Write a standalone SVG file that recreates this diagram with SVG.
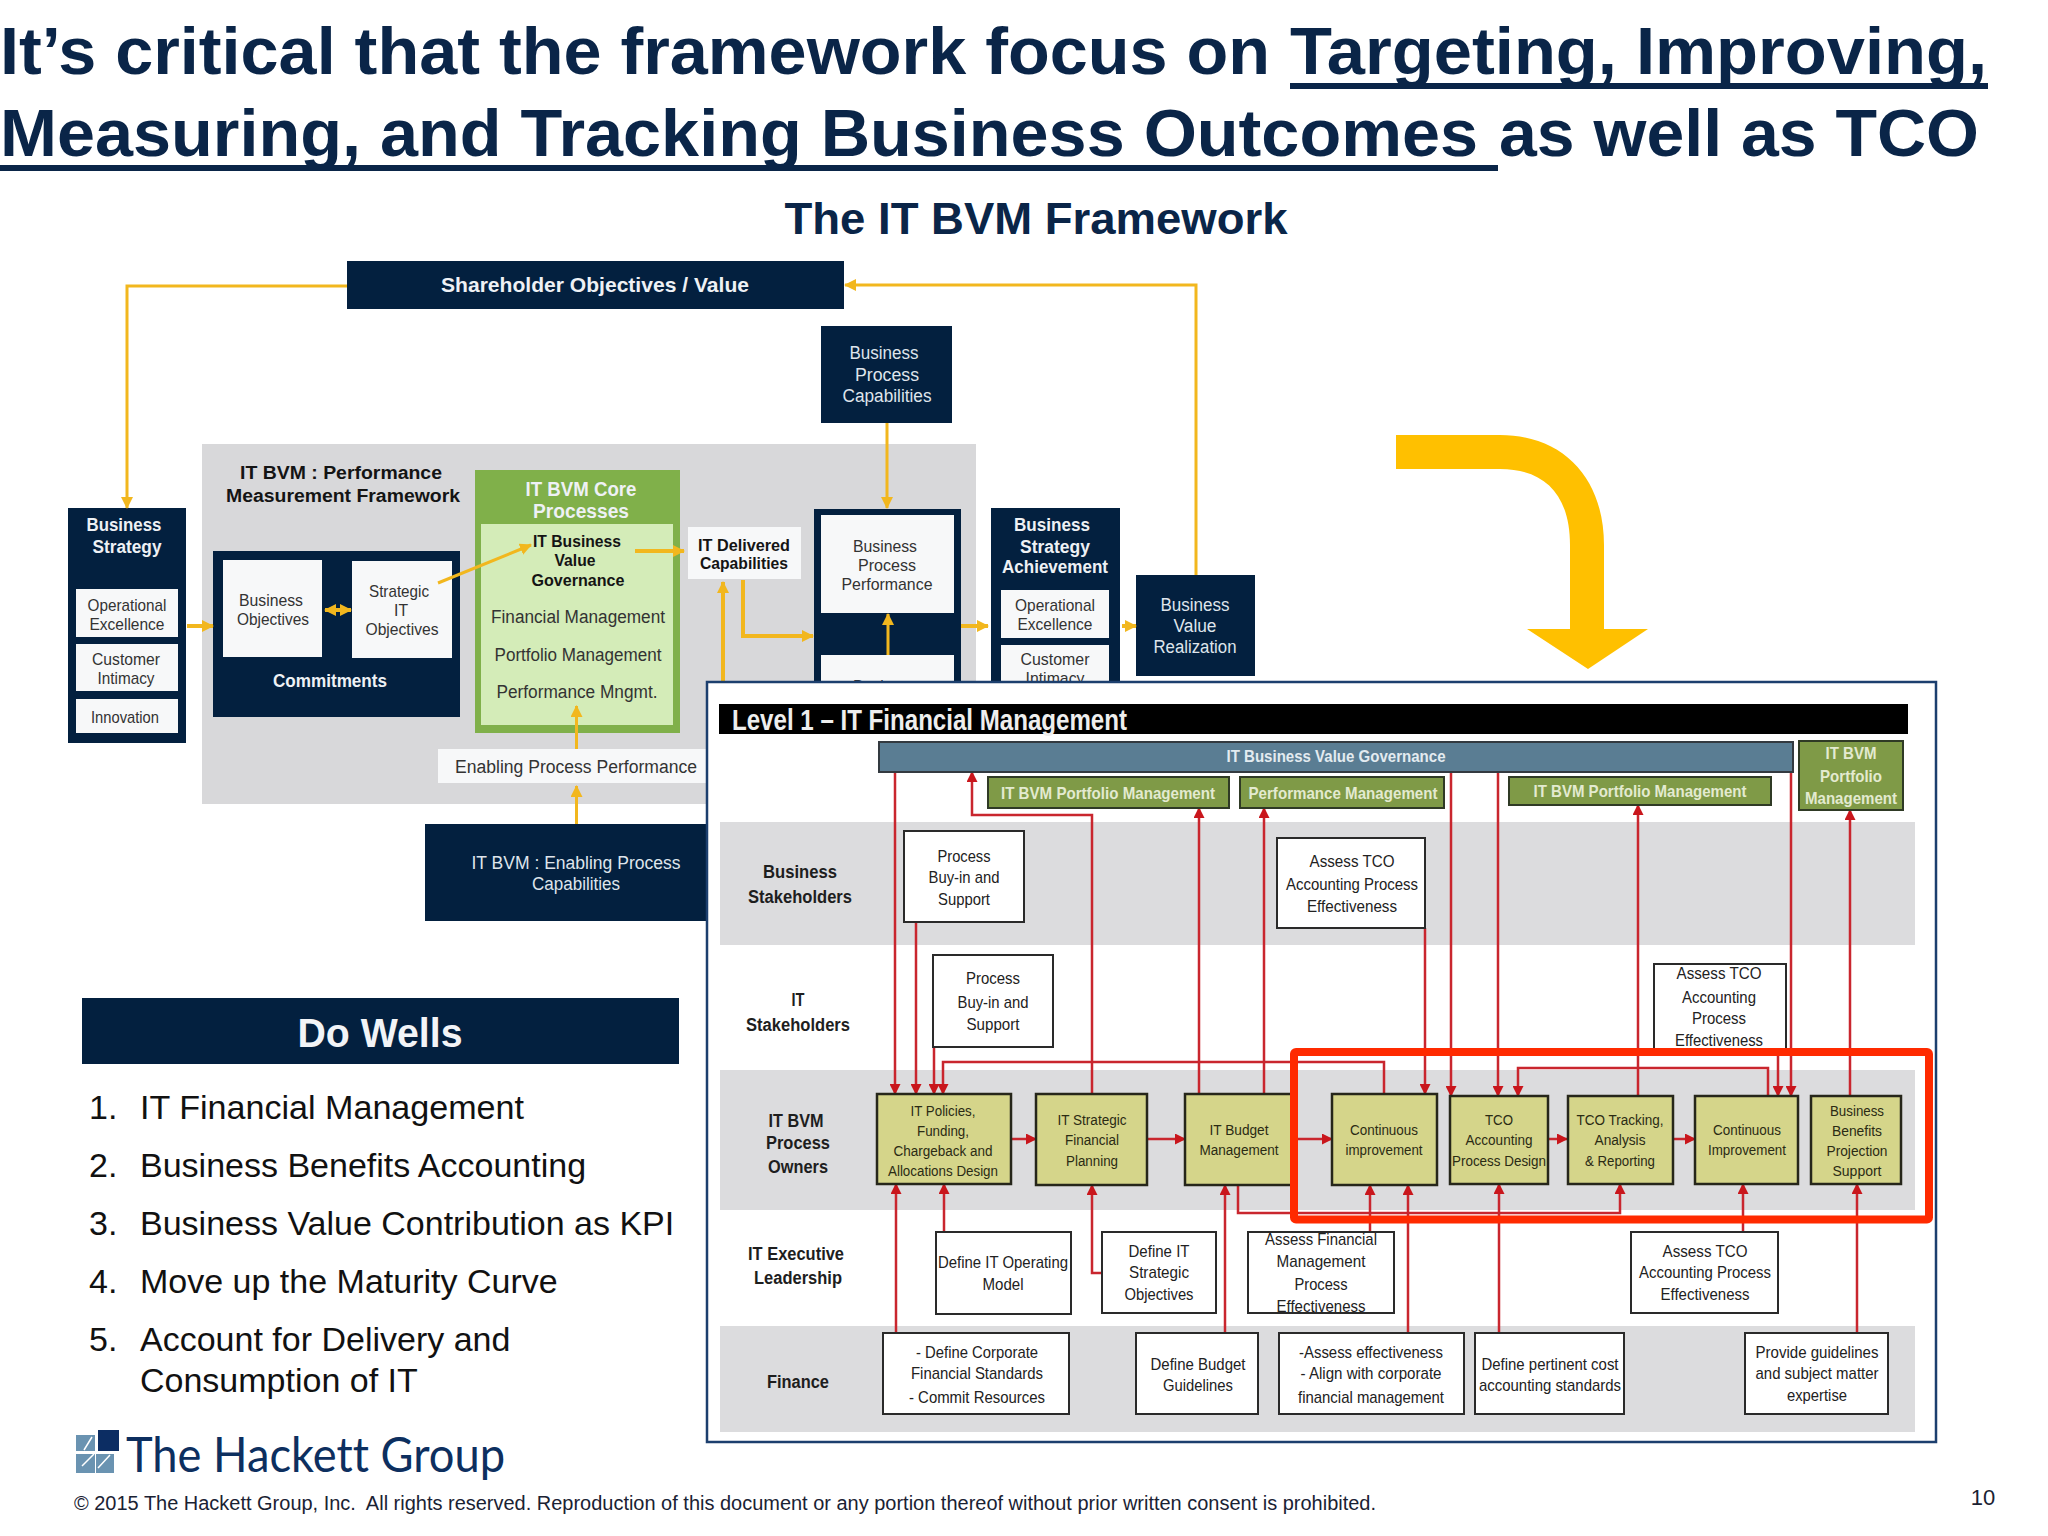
<svg xmlns="http://www.w3.org/2000/svg" width="2048" height="1536" viewBox="0 0 2048 1536">
<style>
text{font-family:"Liberation Sans",Arial,sans-serif}
.c{text-anchor:middle}
.title{font-size:66px;font-weight:700;fill:#0a2548}
.sub{font-size:44px;font-weight:700;fill:#0a2548}
.navy{fill:#03203f}
.wb{fill:#f7f8f9}
.uw{font-size:18px;fill:#dfe5ec;text-anchor:middle}
.ub{font-size:18px;font-weight:700;fill:#eef1f5;text-anchor:middle}
.ud{font-size:17px;fill:#333;text-anchor:middle}
.uk{font-size:18px;font-weight:700;fill:#141414;text-anchor:middle}
.gold{fill:none;stroke:#f2b71e;stroke-width:3}
.goldt{fill:none;stroke:#f2b71e;stroke-width:4}
.red{fill:none;stroke:#c9262e;stroke-width:2.5}
.box{fill:#fff;stroke:#2a2a2a;stroke-width:2}
.yel{fill:#d5d58a;stroke:#26261a;stroke-width:2.5}
.band{fill:#dcdcde}
.gr{fill:#7f9a47;stroke:#2f3a25;stroke-width:2}
.l{font-size:17px;fill:#222;text-anchor:middle}
.y{font-size:15.5px;fill:#2b2b14;text-anchor:middle}
.rl{font-size:18px;font-weight:700;fill:#1e1e1e;text-anchor:middle}
.gt{font-size:17px;font-weight:700;fill:#e3ead0;text-anchor:middle}
.li{font-size:34px;fill:#111}
</style>
<defs>
<marker id="ag" markerUnits="userSpaceOnUse" markerWidth="12" markerHeight="12" refX="11" refY="6" orient="auto"><path d="M0 0L12 6L0 12z" fill="#f2b71e"/></marker>
<marker id="agb" markerUnits="userSpaceOnUse" markerWidth="12" markerHeight="12" refX="1" refY="6" orient="auto"><path d="M12 0L0 6L12 12z" fill="#f2b71e"/></marker>
<marker id="ar" markerUnits="userSpaceOnUse" markerWidth="11" markerHeight="11" refX="10" refY="5.5" orient="auto"><path d="M0 0L11 5.5L0 11z" fill="#c9161c"/></marker>
</defs>
<rect width="2048" height="1536" fill="#fff"/>

<g id="title">
<text class="title" x="0" y="74" textLength="1270" lengthAdjust="spacingAndGlyphs">It’s critical that the framework focus on</text>
<text class="title" x="1290" y="74" textLength="697" lengthAdjust="spacingAndGlyphs">Targeting, Improving,</text>
<text class="title" x="0" y="156" textLength="1478" lengthAdjust="spacingAndGlyphs">Measuring, and Tracking Business Outcomes</text>
<text class="title" x="1499" y="156" textLength="480" lengthAdjust="spacingAndGlyphs">as well as TCO</text>
<rect x="1290" y="83" width="698" height="6" fill="#0a2548"/>
<rect x="0" y="165" width="1498" height="6" fill="#0a2548"/>
<text class="sub c" x="1036" y="234" textLength="503" lengthAdjust="spacingAndGlyphs">The IT BVM Framework</text>
</g>

<rect id="panel" x="202" y="444" width="774" height="360" fill="#d8d8da"/>

<g id="shareholder"><rect class="navy" x="347" y="261" width="497" height="48"/><text class="ub" x="595" y="292" style="font-size:21px" textLength="308" lengthAdjust="spacingAndGlyphs">Shareholder Objectives / Value</text></g>

<g id="business-strategy"><rect class="navy" x="68" y="508" width="118" height="235"/>
<text class="ub" x="124" y="531" textLength="75" lengthAdjust="spacingAndGlyphs">Business</text><text class="ub" x="127" y="553" textLength="69" lengthAdjust="spacingAndGlyphs">Strategy</text>
<rect class="wb" x="76" y="589" width="102" height="48"/><text class="ud" x="127" y="611" textLength="79" lengthAdjust="spacingAndGlyphs">Operational</text><text class="ud" x="127" y="630" textLength="75" lengthAdjust="spacingAndGlyphs">Excellence</text>
<rect class="wb" x="76" y="644" width="102" height="47"/><text class="ud" x="126" y="665" textLength="68" lengthAdjust="spacingAndGlyphs">Customer</text><text class="ud" x="126" y="684" textLength="57" lengthAdjust="spacingAndGlyphs">Intimacy</text>
<rect class="wb" x="76" y="699" width="102" height="34"/><text class="ud" x="125" y="723" textLength="68" lengthAdjust="spacingAndGlyphs">Innovation</text></g>

<text class="uk" x="341" y="479" textLength="202" lengthAdjust="spacingAndGlyphs">IT BVM : Performance</text>
<text class="uk" x="343" y="502" textLength="234" lengthAdjust="spacingAndGlyphs">Measurement Framework</text>

<g id="commitments"><rect class="navy" x="213" y="551" width="247" height="166"/>
<rect class="wb" x="223" y="560" width="99" height="97"/><text class="ud" x="271" y="606" textLength="64" lengthAdjust="spacingAndGlyphs">Business</text><text class="ud" x="273" y="625" textLength="72" lengthAdjust="spacingAndGlyphs">Objectives</text>
<rect class="wb" x="352" y="561" width="100" height="97"/><text class="ud" x="399" y="597" textLength="60" lengthAdjust="spacingAndGlyphs">Strategic</text><text class="ud" x="401" y="616" textLength="14" lengthAdjust="spacingAndGlyphs">IT</text><text class="ud" x="402" y="635" textLength="73" lengthAdjust="spacingAndGlyphs">Objectives</text>
<text class="ub" x="330" y="687" textLength="114" lengthAdjust="spacingAndGlyphs">Commitments</text></g>

<g id="core-processes"><rect x="475" y="470" width="205" height="263" fill="#80b04a"/><rect x="481" y="524" width="192" height="201" fill="#d4ecb8"/>
<text class="ub" x="581" y="496" style="font-size:20px" textLength="111" lengthAdjust="spacingAndGlyphs">IT BVM Core</text><text class="ub" x="581" y="518" style="font-size:20px" textLength="96" lengthAdjust="spacingAndGlyphs">Processes</text>
<text class="uk" x="577" y="547" style="font-size:17px" textLength="88" lengthAdjust="spacingAndGlyphs">IT Business</text><text class="uk" x="575" y="566" style="font-size:17px" textLength="41" lengthAdjust="spacingAndGlyphs">Value</text><text class="uk" x="578" y="586" style="font-size:17px" textLength="93" lengthAdjust="spacingAndGlyphs">Governance</text>
<text class="ud" x="578" y="623" style="font-size:18px" textLength="174" lengthAdjust="spacingAndGlyphs">Financial Management</text><text class="ud" x="578" y="661" style="font-size:18px" textLength="167" lengthAdjust="spacingAndGlyphs">Portfolio Management</text><text class="ud" x="577" y="698" style="font-size:18px" textLength="161" lengthAdjust="spacingAndGlyphs">Performance Mngmt.</text></g>

<g id="enabling-performance"><rect class="wb" x="438" y="749" width="270" height="34"/><text class="ud" x="576" y="773" style="font-size:18px" textLength="242" lengthAdjust="spacingAndGlyphs">Enabling Process Performance</text></g>
<g id="enabling-capabilities"><rect class="navy" x="425" y="824" width="290" height="97"/><text class="uw" x="576" y="869" textLength="209" lengthAdjust="spacingAndGlyphs">IT BVM : Enabling Process</text><text class="uw" x="576" y="890" textLength="88" lengthAdjust="spacingAndGlyphs">Capabilities</text></g>
<g id="it-delivered"><rect class="wb" x="688" y="527" width="113" height="52"/><text class="uk" x="744" y="551" style="font-size:16.5px" textLength="92" lengthAdjust="spacingAndGlyphs">IT Delivered</text><text class="uk" x="744" y="569" style="font-size:16.5px" textLength="88" lengthAdjust="spacingAndGlyphs">Capabilities</text></g>
<g id="process-capabilities"><rect class="navy" x="821" y="326" width="131" height="97"/><text class="uw" x="884" y="359" textLength="69" lengthAdjust="spacingAndGlyphs">Business</text><text class="uw" x="887" y="381" textLength="64" lengthAdjust="spacingAndGlyphs">Process</text><text class="uw" x="887" y="402" textLength="89" lengthAdjust="spacingAndGlyphs">Capabilities</text></g>
<g id="process-performance"><rect class="navy" x="814" y="509" width="147" height="180"/><rect class="wb" x="821" y="515" width="133" height="98"/><text class="ud" x="885" y="552" textLength="64" lengthAdjust="spacingAndGlyphs">Business</text><text class="ud" x="887" y="571" textLength="58" lengthAdjust="spacingAndGlyphs">Process</text><text class="ud" x="887" y="590" textLength="91" lengthAdjust="spacingAndGlyphs">Performance</text><rect class="wb" x="821" y="655" width="133" height="34"/><text class="ud" x="885" y="692" textLength="64" lengthAdjust="spacingAndGlyphs">Business</text></g>
<g id="strategy-achievement"><rect class="navy" x="991" y="508" width="129" height="180"/><text class="ub" x="1052" y="531" textLength="76" lengthAdjust="spacingAndGlyphs">Business</text><text class="ub" x="1055" y="553" textLength="70" lengthAdjust="spacingAndGlyphs">Strategy</text><text class="ub" x="1055" y="573" textLength="106" lengthAdjust="spacingAndGlyphs">Achievement</text>
<rect class="wb" x="1001" y="590" width="108" height="48"/><text class="ud" x="1055" y="611" textLength="80" lengthAdjust="spacingAndGlyphs">Operational</text><text class="ud" x="1055" y="630" textLength="75" lengthAdjust="spacingAndGlyphs">Excellence</text>
<rect class="wb" x="1001" y="645" width="108" height="42"/><text class="ud" x="1055" y="665" textLength="69" lengthAdjust="spacingAndGlyphs">Customer</text><text class="ud" x="1055" y="684" textLength="59" lengthAdjust="spacingAndGlyphs">Intimacy</text></g>
<g id="value-realization"><rect class="navy" x="1136" y="575" width="119" height="101"/><text class="uw" x="1195" y="611" textLength="69" lengthAdjust="spacingAndGlyphs">Business</text><text class="uw" x="1195" y="632" textLength="43" lengthAdjust="spacingAndGlyphs">Value</text><text class="uw" x="1195" y="653" textLength="83" lengthAdjust="spacingAndGlyphs">Realization</text></g>

<g id="connectors-upper">
<path class="gold" d="M347 286H127V508" marker-end="url(#ag)"/>
<path class="gold" d="M1196 575V285H845" marker-end="url(#ag)"/>
<path class="gold" d="M887 423V508" marker-end="url(#ag)"/>
<path class="goldt" d="M187 626H213" marker-end="url(#ag)"/>
<path class="goldt" d="M325 610H351" marker-start="url(#agb)" marker-end="url(#ag)"/>
<path class="gold" d="M438 583L531 545" marker-end="url(#ag)"/>
<path class="goldt" d="M635 551H684" marker-end="url(#ag)"/>
<path class="goldt" d="M743 580V636H813" marker-end="url(#ag)"/>
<path class="goldt" d="M723 690V582" marker-end="url(#ag)"/>
<path class="gold" d="M888 655V614" marker-end="url(#ag)"/>
<path class="goldt" d="M961 626H988" marker-end="url(#ag)"/>
<path class="goldt" d="M1122 626H1136" marker-end="url(#ag)"/>
<path class="gold" d="M576.500 749V706" marker-end="url(#ag)"/>
<path class="gold" d="M576.500 824V786" marker-end="url(#ag)"/>
</g>
<path id="big-arrow" fill="#ffc000" d="M1396 435H1500C1565 435 1604 480 1604 545V629H1648L1588 669L1527 629H1570V545C1570 495 1545 469 1500 469H1396Z"/>

<g id="level1-frame"><rect x="707" y="682" width="1229" height="760" fill="#fff" stroke="#1c3f6e" stroke-width="2.500"/>
<rect x="719" y="704" width="1189" height="30" fill="#000"/><text x="732" y="730" style="font-size:29px;font-weight:700;fill:#eee" textLength="395" lengthAdjust="spacingAndGlyphs">Level 1 – IT Financial Management</text>
<rect class="band" x="720" y="822" width="1195" height="123"/><rect class="band" x="720" y="1070" width="1195" height="140"/><rect class="band" x="720" y="1326" width="1195" height="106"/></g>

<g id="row-labels">
<text class="rl" x="800" y="878" textLength="74" lengthAdjust="spacingAndGlyphs">Business</text><text class="rl" x="800" y="903" textLength="104" lengthAdjust="spacingAndGlyphs">Stakeholders</text>
<text class="rl" x="798" y="1006" textLength="13" lengthAdjust="spacingAndGlyphs">IT</text><text class="rl" x="798" y="1031" textLength="104" lengthAdjust="spacingAndGlyphs">Stakeholders</text>
<text class="rl" x="796" y="1127" textLength="55" lengthAdjust="spacingAndGlyphs">IT BVM</text><text class="rl" x="798" y="1149" textLength="64" lengthAdjust="spacingAndGlyphs">Process</text><text class="rl" x="798" y="1173" textLength="60" lengthAdjust="spacingAndGlyphs">Owners</text>
<text class="rl" x="796" y="1260" textLength="96" lengthAdjust="spacingAndGlyphs">IT Executive</text><text class="rl" x="798" y="1284" textLength="88" lengthAdjust="spacingAndGlyphs">Leadership</text>
<text class="rl" x="798" y="1388" textLength="62" lengthAdjust="spacingAndGlyphs">Finance</text></g>

<g id="connectors-level1">
<path class="red" d="M895 772V1094" marker-end="url(#ar)"/>
<path class="red" d="M916 922V1094" marker-end="url(#ar)"/>
<path class="red" d="M934 1047V1094" marker-end="url(#ar)"/>
<path class="red" d="M1384 1094V1062H943V1094" marker-end="url(#ar)"/>
<path class="red" d="M1092 1094V815H972V772" marker-end="url(#ar)"/>
<path class="red" d="M1199 1094V808" marker-end="url(#ar)"/>
<path class="red" d="M1264 1094V808" marker-end="url(#ar)"/>
<path class="red" d="M1425 928V1094" marker-end="url(#ar)"/>
<path class="red" d="M1451 772V1096" marker-end="url(#ar)"/>
<path class="red" d="M1498 772V1096" marker-end="url(#ar)"/>
<path class="red" d="M1638 1096V805" marker-end="url(#ar)"/>
<path class="red" d="M1768 1096V1068H1518V1096" marker-end="url(#ar)"/>
<path class="red" d="M1778 1048V1096" marker-end="url(#ar)"/>
<path class="red" d="M1791 772V1096" marker-end="url(#ar)"/>
<path class="red" d="M1850 1096V810" marker-end="url(#ar)"/>
<path class="red" d="M1011 1139H1036" marker-end="url(#ar)"/>
<path class="red" d="M1147 1139H1185" marker-end="url(#ar)"/>
<path class="red" d="M1292 1139H1332" marker-end="url(#ar)"/>
<path class="red" d="M1548 1139H1567" marker-end="url(#ar)"/>
<path class="red" d="M1673 1139H1695" marker-end="url(#ar)"/>
<path class="red" d="M896 1333V1184" marker-end="url(#ar)"/>
<path class="red" d="M944 1232V1184" marker-end="url(#ar)"/>
<path class="red" d="M1102 1273H1092V1185" marker-end="url(#ar)"/>
<path class="red" d="M1225 1333V1185" marker-end="url(#ar)"/>
<path class="red" d="M1238 1185V1213H1620V1184" marker-end="url(#ar)"/>
<path class="red" d="M1370 1232V1185" marker-end="url(#ar)"/>
<path class="red" d="M1408 1333V1185" marker-end="url(#ar)"/>
<path class="red" d="M1499 1333V1184" marker-end="url(#ar)"/>
<path class="red" d="M1743 1232V1184" marker-end="url(#ar)"/>
<path class="red" d="M1857 1333V1184" marker-end="url(#ar)"/>
</g>

<g id="governance"><rect x="879" y="742" width="914" height="30" fill="#5a7d93" stroke="#333a40" stroke-width="2"/><text class="gt" x="1336" y="762" style="fill:#e3ebf0" textLength="219" lengthAdjust="spacingAndGlyphs">IT Business Value Governance</text></g>
<g id="portfolio-1"><rect class="gr" x="988" y="777" width="241" height="31"/><text class="gt" x="1108" y="799" textLength="214" lengthAdjust="spacingAndGlyphs">IT BVM Portfolio Management</text></g>
<g id="performance-mgmt"><rect class="gr" x="1240" y="777" width="204" height="31"/><text class="gt" x="1343" y="799" textLength="189" lengthAdjust="spacingAndGlyphs">Performance Management</text></g>
<g id="portfolio-2"><rect class="gr" x="1509" y="777" width="262" height="28"/><text class="gt" x="1640" y="797" textLength="213" lengthAdjust="spacingAndGlyphs">IT BVM Portfolio Management</text></g>
<g id="portfolio-3"><rect class="gr" x="1799" y="741" width="104" height="69"/><text class="gt" x="1851" y="759" textLength="51" lengthAdjust="spacingAndGlyphs">IT BVM</text><text class="gt" x="1851" y="782" textLength="62" lengthAdjust="spacingAndGlyphs">Portfolio</text><text class="gt" x="1851" y="804" textLength="92" lengthAdjust="spacingAndGlyphs">Management</text></g>

<g id="buyin-business"><rect class="box" x="904" y="831" width="120" height="91"/><text class="l" x="964" y="862" textLength="53" lengthAdjust="spacingAndGlyphs">Process</text><text class="l" x="964" y="883" textLength="71" lengthAdjust="spacingAndGlyphs">Buy-in and</text><text class="l" x="964" y="905" textLength="52" lengthAdjust="spacingAndGlyphs">Support</text></g>
<g id="buyin-it"><rect class="box" x="933" y="955" width="120" height="92"/><text class="l" x="993" y="984" textLength="54" lengthAdjust="spacingAndGlyphs">Process</text><text class="l" x="993" y="1008" textLength="71" lengthAdjust="spacingAndGlyphs">Buy-in and</text><text class="l" x="993" y="1030" textLength="53" lengthAdjust="spacingAndGlyphs">Support</text></g>
<g id="assess-tco-business"><rect class="box" x="1277" y="838" width="148" height="90"/><text class="l" x="1352" y="867" textLength="85" lengthAdjust="spacingAndGlyphs">Assess TCO</text><text class="l" x="1352" y="890" textLength="132" lengthAdjust="spacingAndGlyphs">Accounting Process</text><text class="l" x="1352" y="912" textLength="90" lengthAdjust="spacingAndGlyphs">Effectiveness</text></g>
<g id="assess-tco-it"><rect class="box" x="1654" y="964" width="132" height="90"/><text class="l" x="1719" y="979" textLength="85" lengthAdjust="spacingAndGlyphs">Assess TCO</text><text class="l" x="1719" y="1003" textLength="74" lengthAdjust="spacingAndGlyphs">Accounting</text><text class="l" x="1719" y="1024" textLength="54" lengthAdjust="spacingAndGlyphs">Process</text><text class="l" x="1719" y="1046" textLength="88" lengthAdjust="spacingAndGlyphs">Effectiveness</text></g>

<g id="it-policies"><rect class="yel" x="877" y="1094" width="134" height="90"/><text class="y" x="943" y="1116" textLength="65" lengthAdjust="spacingAndGlyphs">IT Policies,</text><text class="y" x="943" y="1136" textLength="52" lengthAdjust="spacingAndGlyphs">Funding,</text><text class="y" x="943" y="1156" textLength="99" lengthAdjust="spacingAndGlyphs">Chargeback and</text><text class="y" x="943" y="1176" textLength="110" lengthAdjust="spacingAndGlyphs">Allocations Design</text></g>
<g id="it-strategic-planning"><rect class="yel" x="1036" y="1094" width="111" height="91"/><text class="y" x="1092" y="1125" textLength="69" lengthAdjust="spacingAndGlyphs">IT Strategic</text><text class="y" x="1092" y="1145" textLength="54" lengthAdjust="spacingAndGlyphs">Financial</text><text class="y" x="1092" y="1166" textLength="52" lengthAdjust="spacingAndGlyphs">Planning</text></g>
<g id="it-budget"><rect class="yel" x="1185" y="1094" width="107" height="91"/><text class="y" x="1239" y="1135" textLength="59" lengthAdjust="spacingAndGlyphs">IT Budget</text><text class="y" x="1239" y="1155" textLength="79" lengthAdjust="spacingAndGlyphs">Management</text></g>
<g id="continuous-1"><rect class="yel" x="1332" y="1094" width="105" height="91"/><text class="y" x="1384" y="1135" textLength="68" lengthAdjust="spacingAndGlyphs">Continuous</text><text class="y" x="1384" y="1155" textLength="77" lengthAdjust="spacingAndGlyphs">improvement</text></g>
<g id="tco-design"><rect class="yel" x="1450" y="1096" width="98" height="88"/><text class="y" x="1499" y="1125" textLength="28" lengthAdjust="spacingAndGlyphs">TCO</text><text class="y" x="1499" y="1145" textLength="67" lengthAdjust="spacingAndGlyphs">Accounting</text><text class="y" x="1499" y="1166" textLength="94" lengthAdjust="spacingAndGlyphs">Process Design</text></g>
<g id="tco-tracking"><rect class="yel" x="1568" y="1096" width="105" height="88"/><text class="y" x="1620" y="1125" textLength="87" lengthAdjust="spacingAndGlyphs">TCO Tracking,</text><text class="y" x="1620" y="1145" textLength="51" lengthAdjust="spacingAndGlyphs">Analysis</text><text class="y" x="1620" y="1166" textLength="70" lengthAdjust="spacingAndGlyphs">&amp; Reporting</text></g>
<g id="continuous-2"><rect class="yel" x="1695" y="1096" width="103" height="88"/><text class="y" x="1747" y="1135" textLength="68" lengthAdjust="spacingAndGlyphs">Continuous</text><text class="y" x="1747" y="1155" textLength="78" lengthAdjust="spacingAndGlyphs">Improvement</text></g>
<g id="benefits"><rect class="yel" x="1811" y="1096" width="90" height="88"/><text class="y" x="1857" y="1116" textLength="54" lengthAdjust="spacingAndGlyphs">Business</text><text class="y" x="1857" y="1136" textLength="50" lengthAdjust="spacingAndGlyphs">Benefits</text><text class="y" x="1857" y="1156" textLength="61" lengthAdjust="spacingAndGlyphs">Projection</text><text class="y" x="1857" y="1176" textLength="49" lengthAdjust="spacingAndGlyphs">Support</text></g>

<g id="define-operating"><rect class="box" x="936" y="1232" width="135" height="82"/><text class="l" x="1003" y="1268" textLength="130" lengthAdjust="spacingAndGlyphs">Define IT Operating</text><text class="l" x="1003" y="1290" textLength="41" lengthAdjust="spacingAndGlyphs">Model</text></g>
<g id="define-objectives"><rect class="box" x="1102" y="1232" width="114" height="81"/><text class="l" x="1159" y="1257" textLength="61" lengthAdjust="spacingAndGlyphs">Define IT</text><text class="l" x="1159" y="1278" textLength="60" lengthAdjust="spacingAndGlyphs">Strategic</text><text class="l" x="1159" y="1300" textLength="69" lengthAdjust="spacingAndGlyphs">Objectives</text></g>
<g id="assess-financial"><rect class="box" x="1248" y="1232" width="146" height="81"/><text class="l" x="1321" y="1245" textLength="112" lengthAdjust="spacingAndGlyphs">Assess Financial</text><text class="l" x="1321" y="1267" textLength="89" lengthAdjust="spacingAndGlyphs">Management</text><text class="l" x="1321" y="1290" textLength="53" lengthAdjust="spacingAndGlyphs">Process</text><text class="l" x="1321" y="1312" textLength="89" lengthAdjust="spacingAndGlyphs">Effectiveness</text></g>
<g id="assess-tco-exec"><rect class="box" x="1631" y="1232" width="147" height="81"/><text class="l" x="1705" y="1257" textLength="85" lengthAdjust="spacingAndGlyphs">Assess TCO</text><text class="l" x="1705" y="1278" textLength="132" lengthAdjust="spacingAndGlyphs">Accounting Process</text><text class="l" x="1705" y="1300" textLength="89" lengthAdjust="spacingAndGlyphs">Effectiveness</text></g>

<g id="define-corporate"><rect class="box" x="883" y="1333" width="186" height="81"/><text class="l" x="977" y="1358" textLength="122" lengthAdjust="spacingAndGlyphs">- Define Corporate</text><text class="l" x="977" y="1379" textLength="132" lengthAdjust="spacingAndGlyphs">Financial Standards</text><text class="l" x="977" y="1403" textLength="136" lengthAdjust="spacingAndGlyphs">- Commit Resources</text></g>
<g id="define-budget"><rect class="box" x="1136" y="1333" width="122" height="81"/><text class="l" x="1198" y="1370" textLength="95" lengthAdjust="spacingAndGlyphs">Define Budget</text><text class="l" x="1198" y="1391" textLength="70" lengthAdjust="spacingAndGlyphs">Guidelines</text></g>
<g id="assess-effectiveness"><rect class="box" x="1279" y="1333" width="185" height="81"/><text class="l" x="1371" y="1358" textLength="144" lengthAdjust="spacingAndGlyphs">-Assess effectiveness</text><text class="l" x="1371" y="1379" textLength="141" lengthAdjust="spacingAndGlyphs">- Align with corporate</text><text class="l" x="1371" y="1403" textLength="146" lengthAdjust="spacingAndGlyphs">financial management</text></g>
<g id="define-pertinent"><rect class="box" x="1475" y="1333" width="149" height="81"/><text class="l" x="1550" y="1370" textLength="137" lengthAdjust="spacingAndGlyphs">Define pertinent cost</text><text class="l" x="1550" y="1391" textLength="142" lengthAdjust="spacingAndGlyphs">accounting standards</text></g>
<g id="provide-guidelines"><rect class="box" x="1745" y="1333" width="143" height="81"/><text class="l" x="1817" y="1358" textLength="123" lengthAdjust="spacingAndGlyphs">Provide guidelines</text><text class="l" x="1817" y="1379" textLength="123" lengthAdjust="spacingAndGlyphs">and subject matter</text><text class="l" x="1817" y="1401" textLength="60" lengthAdjust="spacingAndGlyphs">expertise</text></g>

<rect id="highlight" x="1294" y="1052" width="635" height="167.500" rx="2" fill="none" stroke="#ff2a00" stroke-width="8"/>

<g id="do-wells"><rect class="navy" x="82" y="998" width="597" height="66"/><text x="380" y="1047" class="c" style="font-size:40px;font-weight:700;fill:#f2f4f7" textLength="165" lengthAdjust="spacingAndGlyphs">Do Wells</text>
<text class="li" x="89" y="1119">1.</text><text class="li" x="140" y="1119" textLength="384" lengthAdjust="spacingAndGlyphs">IT Financial Management</text>
<text class="li" x="89" y="1177">2.</text><text class="li" x="140" y="1177">Business Benefits Accounting</text>
<text class="li" x="89" y="1235">3.</text><text class="li" x="140" y="1235">Business Value Contribution as KPI</text>
<text class="li" x="89" y="1293">4.</text><text class="li" x="140" y="1293">Move up the Maturity Curve</text>
<text class="li" x="89" y="1351">5.</text><text class="li" x="140" y="1351">Account for Delivery and</text>
<text class="li" x="140" y="1392">Consumption of IT</text></g>

<g id="logo"><rect x="76" y="1435" width="19" height="16" fill="#6a93b1"/><rect x="76" y="1454" width="19" height="19" fill="#6a93b1"/><rect x="96" y="1454" width="18" height="19" fill="#6a93b1"/><rect x="98" y="1430" width="21" height="21" fill="#0c2d63"/>
<path d="M84 1450L92 1437M82 1466L94 1454M98 1468L110 1455" stroke="#fff" stroke-width="1.500" fill="none"/>
<text x="126" y="1472" style="font-family:Lato,'Liberation Sans',sans-serif;font-size:49px;font-weight:400;fill:#0d2f5f;font-variant-ligatures:none" textLength="379" lengthAdjust="spacingAndGlyphs">The Hackett Group</text></g>
<text x="74" y="1510" xml:space="preserve" style="font-size:20px;fill:#1a2233" textLength="1302" lengthAdjust="spacingAndGlyphs">© 2015 The Hackett Group, Inc.  All rights reserved. Reproduction of this document or any portion thereof without prior written consent is prohibited.</text>
<text x="1983" y="1505" class="c" style="font-size:22px;fill:#1a2233">10</text>
</svg>
